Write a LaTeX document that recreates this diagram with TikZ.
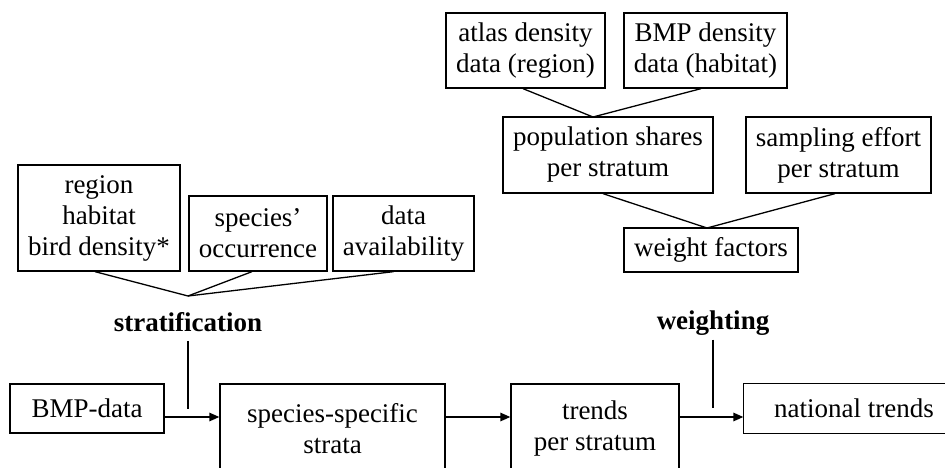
\documentclass[tikz,border=0pt]{standalone}
\usepackage{fontspec}
\setmainfont{Liberation Serif}
\usetikzlibrary{arrows.meta}
\begin{document}
\begin{tikzpicture}[x=1pt,y=-1pt,
  box/.style={draw, line width=1.3pt, inner sep=0pt, align=center, anchor=center,
    font=\fontsize{27}{31}\selectfont},
  openbox/.style={box, draw=none},
  lbl/.style={inner sep=0pt, anchor=center, font=\fontsize{27}{31}\selectfont\bfseries},
  ln/.style={line width=1.3pt},
  arr/.style={line width=1.3pt, -{Triangle[length=10pt,width=8.5pt]}}]
\useasboundingbox (0,0) rectangle (945,468);
\clip (0,0) rectangle (945,468);
% left input boxes
\node[box, minimum width=162pt, minimum height=106pt] (reg) at (99,218) {region\\habitat\\bird density*};
\node[box, minimum width=138pt, minimum height=75pt] (occ) at (258,233.5) {species'\\occurrence};
\node[box, minimum width=141pt, minimum height=75pt] (avail) at (403.5,233.5) {data\\availability};
% right input boxes
\node[box, minimum width=159pt, minimum height=75pt] (atlas) at (525.5,50.5) {atlas density\\data (region)};
\node[box, minimum width=163pt, minimum height=75pt] (bmpd) at (705.5,50.5) {BMP density\\data (habitat)};
\node[box, minimum width=210pt, minimum height=76pt] (pop) at (608,155) {population shares\\per stratum};
\node[box, minimum width=185pt, minimum height=76pt] (samp) at (838.5,155) {sampling effort\\per stratum};
\node[box, minimum width=174pt, minimum height=44pt] (wf) at (711,250) {weight factors};
% main flow
\node[box, minimum width=154pt, minimum height=49pt] (bmp) at (87,408.5) {BMP-data};
\node[box, minimum width=225pt, minimum height=90pt] (strata) at (332.5,429) {species-specific\\strata};
\node[box, minimum width=168pt, minimum height=90pt] (trends) at (595,429) {trends\\per stratum};
\node[openbox, minimum width=220pt, minimum height=49pt] (nat) at (854,408.5) {national trends};
\draw[ln] (nat.north east) -- (nat.north west) -- (nat.south west) -- (nat.south east);
% labels
\node[lbl] (strat) at (188,322) {stratification};
\node[lbl] (weight) at (713,323) {weighting};
% convergence points
\coordinate (sj) at (188,296);
\coordinate (pj) at (593,117);
\coordinate (wj) at (707,228);
\coordinate (flow) at (0,417);
\coordinate (sdrop) at (188,409);
\coordinate (wdrop) at (713,408);
\draw[ln] ([xshift=-4pt]reg.south) -- (sj);
\draw[ln] ([xshift=-6pt]occ.south) -- (sj);
\draw[ln] ([xshift=-10pt]avail.south) -- (sj);
\draw[ln] ([xshift=-2.5pt]atlas.south) -- (pj);
\draw[ln] ([xshift=-4.5pt]bmpd.south) -- (pj);
\draw[ln] ([xshift=-5pt]pop.south) -- (wj);
\draw[ln] ([xshift=-3.5pt]samp.south) -- (wj);
\draw[ln] ([yshift=-9pt]strat.south) -- (sdrop);
\draw[ln] ([yshift=-4pt]weight.south) -- (wdrop);
% arrows
\draw[arr] (bmp.east |- flow) -- (strata.west |- flow);
\draw[arr] (strata.east |- flow) -- (trends.west |- flow);
\draw[arr] (trends.east |- flow) -- (nat.west |- flow);
\end{tikzpicture}
\end{document}
